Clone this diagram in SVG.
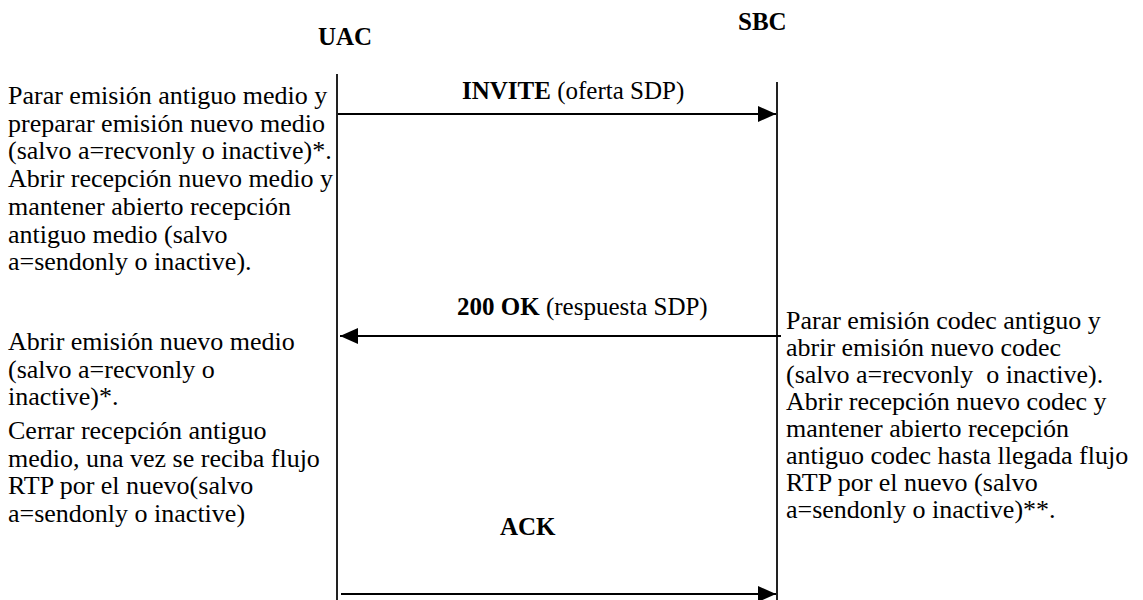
<svg xmlns="http://www.w3.org/2000/svg" width="1143" height="600" viewBox="0 0 1143 600">
  <style>
    .t { font-family: "Liberation Serif", "Times New Roman", serif; font-size: 26px; fill: #000; white-space: pre; }
    .lbl { font-family: "Liberation Serif", "Times New Roman", serif; font-size: 25px; fill: #000; }
    .b { font-weight: bold; }
    .lane { stroke: #222; stroke-width: 2; fill: none; }
    .msg { stroke: #000; stroke-width: 2; fill: none; }
  </style>
  <defs>
    <marker id="head" viewBox="0 0 18 16" refX="18" refY="8" markerWidth="18" markerHeight="16" markerUnits="userSpaceOnUse" orient="auto">
      <path d="M0,0 L18,8 L0,16 Z" fill="#000"/>
    </marker>
  </defs>
  <rect width="1143" height="600" fill="#fff"/>

  <!-- participants -->
  <g id="uac">
    <text class="lbl b" x="318" y="45">UAC</text>
    <line class="lane" x1="337" y1="74" x2="337" y2="600"/>
  </g>
  <g id="sbc">
    <text class="lbl b" x="738" y="30">SBC</text>
    <line class="lane" x1="777" y1="82" x2="777" y2="600"/>
  </g>

  <!-- messages -->
  <g id="connectors">
    <line class="msg" x1="338" y1="114" x2="776" y2="114" marker-end="url(#head)"/>
    <line class="msg" x1="781" y1="336" x2="340" y2="336" marker-end="url(#head)"/>
    <line class="msg" x1="341" y1="594" x2="776" y2="594" marker-end="url(#head)"/>
  </g>

  <g id="labels">
    <text class="lbl" x="462" y="99"><tspan class="b">INVITE</tspan> (oferta SDP)</text>
    <text class="lbl" x="457" y="315"><tspan class="b">200 OK</tspan> (respuesta SDP)</text>
    <text class="lbl b" x="500" y="535">ACK</text>
  </g>

  <!-- UAC side notes -->
  <g id="uac-note-1">
    <text class="t" x="8" y="104">Parar emisión antiguo medio y</text>
    <text class="t" x="8" y="131.7">preparar emisión nuevo medio</text>
    <text class="t" x="8" y="159.4">(salvo a=recvonly o inactive)*.</text>
    <text class="t" x="8" y="187.1">Abrir recepción nuevo medio y</text>
    <text class="t" x="8" y="214.8">mantener abierto recepción</text>
    <text class="t" x="8" y="242.5">antiguo medio (salvo</text>
    <text class="t" x="8" y="270.2">a=sendonly o inactive).</text>
  </g>
  <g id="uac-note-2">
    <text class="t" x="8" y="350">Abrir emisión nuevo medio</text>
    <text class="t" x="8" y="377.5">(salvo a=recvonly o</text>
    <text class="t" x="8" y="405">inactive)*.</text>
    <text class="t" x="8" y="439">Cerrar recepción antiguo</text>
    <text class="t" x="8" y="466.5">medio, una vez se reciba flujo</text>
    <text class="t" x="8" y="494">RTP por el nuevo(salvo</text>
    <text class="t" x="8" y="521.5">a=sendonly o inactive)</text>
  </g>

  <!-- SBC side note -->
  <g id="sbc-note">
    <text class="t" x="786" y="329">Parar emisión codec antiguo y</text>
    <text class="t" x="786" y="356">abrir emisión nuevo codec</text>
    <text class="t" x="786" y="383" xml:space="preserve">(salvo a=recvonly  o inactive).</text>
    <text class="t" x="786" y="410">Abrir recepción nuevo codec y</text>
    <text class="t" x="786" y="437">mantener abierto recepción</text>
    <text class="t" x="786" y="464">antiguo codec hasta llegada flujo</text>
    <text class="t" x="786" y="491">RTP por el nuevo (salvo</text>
    <text class="t" x="786" y="518">a=sendonly o inactive)**.</text>
  </g>
</svg>
